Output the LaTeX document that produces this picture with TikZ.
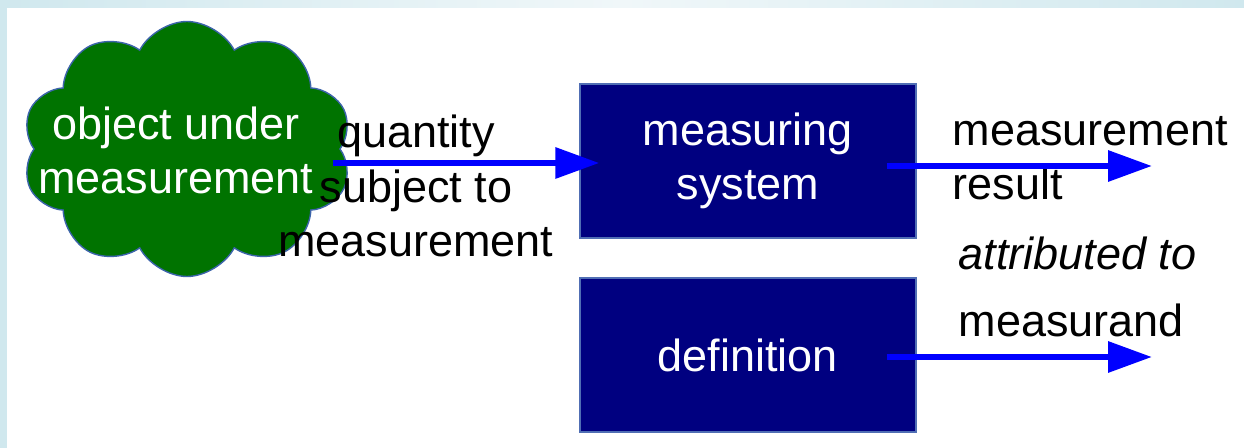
\documentclass[tikz,border=0pt]{standalone}
\usepackage{fontspec}
\setmainfont{Liberation Sans}
\usetikzlibrary{shapes.symbols, arrows.meta}

\definecolor{framebg}{RGB}{208,232,238}
\definecolor{framelight}{RGB}{240,247,249}
\definecolor{cloudgreen}{RGB}{0,115,0}
\definecolor{cloudline}{RGB}{60,100,170}
\definecolor{boxnavy}{RGB}{0,0,128}
\definecolor{boxline}{RGB}{80,110,180}
\definecolor{flowblue}{RGB}{0,0,255}

\begin{document}
\begin{tikzpicture}[
    every node/.style = {font = \fontsize{12.8}{15.4}\selectfont, inner sep = 0pt},
    sysbox/.style = {draw = boxline, fill = boxnavy, text = white, align = center,
        minimum width = 3.36cm, minimum height = 1.54cm},
    flow/.style = {draw = flowblue, line width = 1.8pt,
        -{Triangle[length = 0.44cm, width = 0.3cm]}}]
    \useasboundingbox (0,0) rectangle (12.44,-4.48);
    % frame
    \fill[white] (0,0) rectangle (12.44,-4.48);
    \fill[framebg] (0,0) rectangle (0.07,-4.48);
    \shade[left color = framebg, right color = framebg, middle color = framelight]
        (0,0) rectangle (12.44,-0.08);
    % object
    \node[cloud, cloud puffs = 10, cloud puff arc = 125, cloud ignores aspect,
        draw = cloudline, fill = cloudgreen, minimum width = 3.3cm, minimum height = 2.55cm]
        (obj) at (1.87,-1.49) {};
    \node[text = white, align = center] (objtext) at (1.76,-1.50) {object under\\measurement};
    % boxes
    \node[sysbox] (meas) at (7.48,-1.61) {measuring\\system};
    \node[sysbox] (def) at (7.48,-3.55) {definition};
    % labels
    \node[align = center] (qty) at (4.16,-1.86) {quantity\\subject to\\measurement};
    \node[anchor = west, align = left] (res) at (9.52,-1.58) {measurement\\result};
    \node[anchor = west, font = \fontsize{12.8}{15.4}\selectfont\itshape] (attr) at (9.58,-2.53) {attributed to};
    \node[anchor = west] (mnd) at (9.58,-3.20) {measurand};
    % arrows
    \coordinate (q) at (3.33,-1.63);
    \coordinate (resend) at (11.52,-1.66);
    \coordinate (defend) at (11.52,-3.57);
    \draw[flow] (q) -- ([xshift = 2mm]q -| meas.west);
    \draw[flow] ([xshift = -3mm]meas.east |- resend) -- (resend);
    \draw[flow] ([xshift = -3mm]def.east |- defend) -- (defend);
\end{tikzpicture}
\end{document}
